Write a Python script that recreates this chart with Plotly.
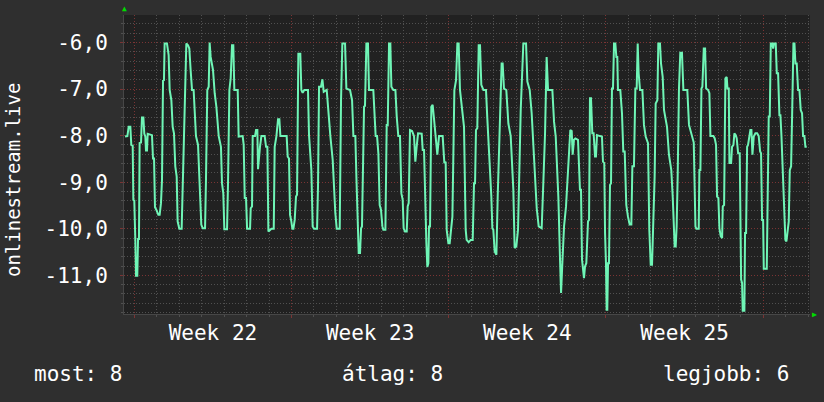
import plotly.graph_objects as go

# time in hours from Monday 00:00 of week 22, value = rank (negated)
hours = [
    -9.9, -7.4, -6.0, -4.2, -3.2, -1.7, -1.0, 0.0, 1.1, 1.8, 3.2, 4.0, 5.0, 5.7, 7.2, 8.2, 9.7, 10.7, 11.8, 12.5,
    13.6, 14.3, 18.9, 20.0, 21.1, 22.1, 23.5, 25.7, 27.1, 28.5, 29.6, 30.7, 31.7, 32.4, 34.9, 36.7, 37.8, 39.6, 41.0, 42.4,
    43.8, 45.3, 46.3, 48.1, 50.6, 52.0, 53.8, 55.6, 57.4, 58.8, 60.2, 61.7, 63.4, 64.5, 65.9, 68.1, 69.5, 70.2, 71.6, 73.1,
    75.6, 76.6, 78.0, 79.5, 80.5, 81.6, 83.0, 84.1, 85.9, 87.7, 90.2, 92.6, 93.7, 95.1, 96.2, 99.1, 100.1, 101.6, 103.0, 104.4,
    105.8, 106.9, 110.5, 111.5,
    115.8, 116.9, 118.0, 119.4, 120.5, 123.7, 124.4, 125.8, 126.5, 129.0, 130.1, 131.5, 132.2, 133.3, 134.3, 135.8, 139.3, 140.8, 142.2, 143.3,
    145.0, 146.5, 149.0, 150.0, 151.8, 153.6, 155.0, 156.1, 162.8, 163.9, 165.3, 166.4, 167.8, 168.9, 170.0, 171.4, 172.8, 173.9, 175.3, 177.4,
    178.5, 179.9, 181.7, 185.6, 186.7, 189.2, 190.6, 192.1, 195.3, 196.3, 197.4, 199.5, 201.0, 202.4, 205.6, 207.4, 209.5, 212.0, 213.8, 214.8,
    216.3, 219.5, 220.9, 222.3, 225.2, 226.6, 230.5, 232.7, 234.1,
    236.2, 237.3, 238.3, 239.8, 241.2, 242.3, 243.3, 244.0, 245.5, 246.5, 248.0, 249.7, 250.8, 255.4, 256.5, 257.9, 259.4, 260.8, 262.2, 263.6,
    265.1, 266.1, 268.3, 269.7, 270.8, 272.2, 273.6, 274.7, 276.8, 279.0, 280.4, 282.1, 283.9, 285.4, 286.8, 287.8, 289.3, 291.1, 292.1, 293.2,
    294.6, 296.8, 298.9, 300.3, 301.7, 303.2, 307.1, 308.2, 309.6, 311.0, 312.1, 313.1, 314.2, 314.9, 316.0, 317.4, 318.8, 320.3, 321.7, 323.8,
    325.6, 329.5, 331.3, 332.7, 333.8, 335.6, 337.0, 338.4, 339.9, 342.0, 343.8, 345.2, 346.6, 348.0, 350.2, 352.3, 354.1,
    355.1, 357.3, 359.4, 361.6, 363.0, 364.1, 365.1, 366.5, 368.0, 369.4, 370.8, 373.0, 375.8, 377.2, 379.4, 381.5, 382.6, 383.6, 385.1, 386.9,
    388.3, 390.4, 392.5, 393.6, 395.0, 397.5, 399.7, 402.2, 405.0, 406.4, 408.2, 410.0, 412.9, 415.7, 418.6, 420.0, 422.5, 424.6, 427.1, 430.0,
    432.1, 435.3, 437.1, 438.9, 440.6, 442.1, 446.7, 448.5, 450.3, 453.1, 454.9, 456.0, 457.7, 459.2, 461.3, 464.1, 465.9, 467.4, 468.4, 469.8,
    471.3,
    474.1, 475.2, 476.2, 477.3, 478.4, 480.5, 481.6, 483.0, 484.8, 485.9, 486.9, 488.0, 489.4, 490.8, 492.3, 493.3, 494.4, 497.6, 499.7, 500.8,
    502.2, 503.0, 504.0, 504.7, 505.4, 506.2, 507.2, 508.3, 509.4, 510.4, 511.5, 512.6, 514.0, 515.1, 516.1, 516.8, 519.3, 521.1, 522.5, 524.0,
    525.7, 527.5, 529.3, 531.1, 532.2, 533.9, 535.4, 536.8, 537.9, 538.9, 540.4, 542.9, 544.6, 546.4, 548.9, 550.3, 551.8, 553.2, 554.2, 556.0,
    557.1, 558.9, 559.9, 561.7, 562.8, 564.6, 566.0, 567.4, 569.2, 571.3, 573.8, 575.3, 576.3, 577.4, 578.5, 579.5, 580.6, 582.0, 583.4, 585.2,
    586.7, 590.9, 592.7, 595.2, 596.6,
    597.8, 599.6, 600.6, 603.1, 603.8, 604.9, 606.0, 607.0, 608.5, 609.9, 611.0, 613.1, 614.5, 615.6, 618.8, 620.2, 621.6, 622.7, 624.1, 625.2,
    626.6, 628.1, 628.8, 630.2, 631.6, 633.0, 633.8, 635.2, 635.9, 637.7, 638.7, 640.2, 641.2, 642.7, 643.7, 645.2, 646.9, 648.4, 649.4, 650.1,
    651.9, 652.6, 653.7, 654.8, 655.8, 658.3, 659.4, 660.5, 661.9, 663.7, 665.5, 667.2, 668.7, 669.7, 670.8, 671.9, 672.6, 675.8, 677.9, 679.0,
    680.1, 681.8, 682.6, 683.6, 685.4, 686.5, 687.9, 689.3, 690.4, 691.5, 692.9, 694.3, 695.7, 696.8, 698.6, 699.3, 700.4, 701.8, 702.9, 704.3,
    705.4, 706.4, 707.8, 709.3, 710.7, 712.1, 713.5, 714.6, 716.0, 717.1, 718.5,
]

rank = [
    -8.02, -8.01, -7.81, -7.81, -8.2, -8.22, -9.38, -9.39, -10.24, -11.01, -11.01, -10.22, -10.22, -8.16, -8.15, -7.61, -7.61, -7.96, -8.02, -8.32,
    -8.32, -7.96, -7.99, -8.49, -8.49, -9.54, -9.59, -9.7, -9.7, -9.45, -8.95, -6.82, -6.81, -6.02, -6.02, -6.27, -7.02, -7.24, -7.81, -7.95,
    -8.66, -8.88, -9.84, -10.0, -10.0, -8.88, -6.84, -6.02, -6.06, -6.13, -6.59, -7.02, -7.02, -7.41, -8.01, -8.2, -9.02, -9.45, -9.91, -9.99,
    -9.99, -8.95, -7.02, -6.95, -6.0, -6.31, -6.45, -6.59, -7.09, -7.38, -8.01, -8.24, -9.02, -9.24, -10.01, -10.01, -9.06, -7.02, -6.77, -6.06,
    -6.06, -7.02, -7.02, -8.02,
    -8.01, -8.2, -9.34, -9.34, -10.0, -10.0, -9.56, -9.52, -8.01, -8.01, -7.88, -7.88, -8.72, -8.34, -8.24, -8.01, -8.01, -8.24, -8.24, -10.06,
    -10.02, -10.0, -10.0, -8.24, -8.02, -7.65, -7.65, -8.01, -8.01, -8.45, -8.49, -9.7, -9.84, -10.0, -10.0, -9.81, -9.31, -9.27, -6.24, -6.24,
    -7.02, -7.08, -7.02, -7.02, -7.99, -8.74, -9.95, -10.0, -10.0, -9.09, -6.95, -6.95, -6.79, -7.06, -7.02, -7.52, -8.01, -8.52, -9.31, -9.66,
    -10.0, -10.0, -7.24, -6.02, -6.02, -6.99, -7.02, -7.24, -8.01,
    -8.01, -8.88, -9.52, -10.52, -10.52, -9.99, -9.95, -8.84, -7.38, -7.36, -6.02, -6.02, -7.02, -7.02, -7.49, -8.01, -8.01, -8.38, -9.49, -9.59,
    -9.95, -10.02, -10.02, -7.77, -7.77, -6.02, -6.02, -6.95, -7.02, -7.02, -7.59, -8.01, -8.01, -9.24, -9.38, -9.99, -10.06, -10.06, -9.52, -9.45,
    -7.88, -7.9, -8.01, -8.56, -8.24, -7.95, -7.96, -8.31, -8.31, -9.74, -10.31, -10.82, -10.74, -9.95, -9.95, -7.38, -7.34, -7.65, -8.02, -8.41,
    -8.01, -8.01, -8.59, -8.56, -10.02, -10.31, -10.31, -10.02, -9.74, -7.02, -6.81, -6.02, -6.02, -7.02, -7.45, -7.81, -10.02,
    -10.24, -10.29, -10.24, -10.24, -9.02, -9.02, -7.88, -7.84, -6.06, -6.06, -6.91, -7.02, -7.02, -7.63, -8.45, -9.31, -9.99, -10.02, -10.49, -10.56,
    -9.31, -7.95, -6.45, -6.45, -6.99, -7.02, -7.74, -8.01, -9.16, -10.41, -10.38, -10.02, -7.45, -6.02, -6.02, -6.84, -7.02, -7.52, -8.59, -9.56,
    -9.95, -9.99, -8.99, -7.95, -6.31, -7.02, -7.02, -7.7, -8.02, -9.31, -10.66, -11.38, -10.59, -9.95, -9.52, -8.45, -7.88, -7.9, -8.41, -8.09,
    -8.06,
    -8.09, -8.66, -9.16, -9.16, -10.66, -11.06, -10.81, -10.74, -9.84, -9.81, -7.2, -7.2, -7.95, -7.95, -8.45, -8.45, -7.99, -8.01, -8.02, -8.56,
    -8.59, -10.09, -10.74, -11.74, -11.74, -10.74, -10.74, -9.06, -9.02, -6.99, -6.99, -6.02, -6.02, -6.31, -6.31, -7.02, -7.02, -7.52, -8.34, -8.34,
    -9.49, -9.74, -9.91, -9.91, -8.66, -8.66, -6.99, -6.99, -6.02, -6.66, -7.02, -7.02, -7.77, -8.02, -8.16, -10.02, -10.77, -10.77, -10.02, -8.88,
    -7.31, -7.24, -6.02, -6.02, -6.45, -6.74, -7.45, -7.59, -7.81, -8.41, -8.74, -9.31, -9.91, -10.38, -10.38, -9.95, -8.88, -6.99, -6.22, -6.22,
    -7.02, -7.02, -7.77, -7.95, -8.09,
    -8.15, -9.95, -10.0, -10.0, -8.74, -8.74, -6.99, -6.95, -6.13, -6.13, -6.99, -7.02, -7.09, -8.01, -8.01, -8.06, -8.2, -9.31, -9.34, -9.99,
    -10.16, -10.2, -9.52, -9.49, -6.77, -6.74, -6.99, -6.99, -8.59, -8.59, -8.24, -8.2, -7.95, -7.99, -8.06, -8.38, -8.38, -11.09, -11.16, -11.76,
    -11.76, -10.09, -10.09, -8.24, -8.2, -7.88, -7.88, -8.41, -8.02, -7.95, -7.95, -8.01, -8.34, -8.38, -9.81, -9.81, -10.86, -10.86, -7.59, -7.59,
    -6.02, -6.02, -6.13, -6.02, -6.02, -6.66, -6.66, -7.56, -7.56, -8.01, -8.74, -9.49, -10.24, -10.27, -9.84, -9.84, -8.74, -8.66, -7.56, -6.02,
    -6.02, -6.45, -6.45, -7.02, -7.02, -7.45, -7.52, -8.01, -8.01, -8.24, -8.24,
]

week_bounds = [0, 168, 336, 504, 672]
week_mid = [84, 252, 420, 588]
week_labels = ["Week 22", "Week 23", "Week 24", "Week 25"]
y_ticks = [-6, -7, -8, -9, -10, -11]
y_labels = [f"{v:.1f}".replace(".", ",") for v in y_ticks]
series_name = "onlinestream.live"
stat_names = ["most", "átlag", "legjobb"]
stat_values = [8, 8, 6]

FONT = "DejaVu Sans Mono"
RED = "#7a3434"
GRAY = "#505050"
X_RANGE = [-11, 722]
Y_RANGE = [-11.83, -5.41]

fig = go.Figure()
fig.add_trace(go.Scatter(x=hours, y=rank, mode="lines",
                         line=dict(color="#6ff5b6", width=2), hoverinfo="skip",
                         showlegend=False))
fig.add_trace(go.Scatter(x=week_mid, y=[None] * len(week_mid), xaxis="x2",
                         mode="markers", showlegend=False, hoverinfo="skip"))

fig.update_layout(
    width=824, height=402,
    margin=dict(l=124, r=14, t=15, b=88),
    paper_bgcolor="#2f2f2f", plot_bgcolor="#212121",
    font=dict(family=FONT, color="#ffffff", size=21),
    xaxis=dict(range=X_RANGE, tickvals=week_bounds, showticklabels=False,
               showgrid=True, gridcolor=RED, griddash="1px,2px", gridwidth=1,
               zeroline=False, ticks="outside", ticklen=3, tickcolor=RED,
               showline=True, linecolor="#474747", linewidth=1,
               minor=dict(dtick=24, tick0=0, showgrid=True, gridcolor=GRAY,
                          griddash="1px,2px", ticks="outside", ticklen=2, tickcolor=GRAY)),
    xaxis2=dict(range=X_RANGE, overlaying="x", anchor="y", side="bottom",
                tickvals=week_mid, ticktext=week_labels, showgrid=False,
                zeroline=False, ticks="", ticklabelstandoff=4,
                tickfont=dict(family=FONT, size=21, color="#ffffff")),
    yaxis=dict(range=Y_RANGE, tickvals=y_ticks, ticktext=y_labels,
               showgrid=True, gridcolor=RED, griddash="1px,2px", gridwidth=1,
               zeroline=False, ticks="outside", ticklen=3, tickcolor=RED,
               ticklabelstandoff=8, showline=True, linecolor="#474747", linewidth=1,
               tickfont=dict(family=FONT, size=21, color="#ffffff"),
               minor=dict(dtick=0.2, tick0=0, showgrid=True, gridcolor=GRAY,
                          griddash="1px,2px", ticks="outside", ticklen=2, tickcolor=GRAY)),
)

annotations = [
    dict(text=series_name, x=-0.1618, y=0.448, xref="paper", yref="paper",
         xanchor="center", yanchor="middle", textangle=-90, showarrow=False,
         font=dict(family=FONT, size=19, color="#ffffff")),
    dict(text=f"{stat_names[0]}: {stat_values[0]}", x=-0.1327, y=-0.2007, xref="paper", yref="paper",
         xanchor="left", yanchor="middle", showarrow=False, borderpad=0),
    dict(text=f"{stat_names[1]}: {stat_values[1]}", x=0.3914, y=-0.2007, xref="paper", yref="paper",
         xanchor="center", yanchor="middle", showarrow=False, borderpad=0),
    dict(text=f"{stat_names[2]}: {stat_values[2]}", x=0.9708, y=-0.2007, xref="paper", yref="paper",
         xanchor="right", yanchor="middle", showarrow=False, borderpad=0),
    dict(text="▲", x=0, y=1.0, xref="paper", yref="paper", xanchor="center", yanchor="bottom",
         showarrow=False, font=dict(size=8, color="#00dd00")),
    dict(text="▶", x=1.0, y=0, xref="paper", yref="paper", xanchor="left", yanchor="middle",
         showarrow=False, font=dict(size=8, color="#00dd00")),
]
fig.update_layout(annotations=annotations)

fig.write_html("out.html")
